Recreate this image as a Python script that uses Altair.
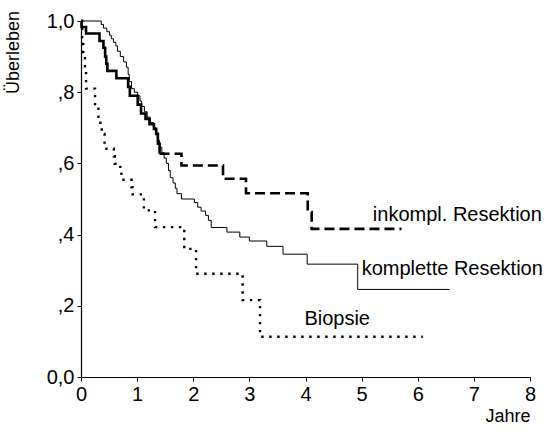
import altair as alt
import pandas as pd

# Kaplan-Meier curves (time in years, survival fraction)
komplett_t = [0, 0.36, 0.40, 0.46, 0.51, 0.54, 0.58, 0.62, 0.65, 0.70,
              0.76, 0.81, 0.84, 0.86, 0.90, 0.95, 1.01, 1.05, 1.08, 1.13,
              1.18, 1.23, 1.29, 1.33, 1.36, 1.40, 1.44, 1.48, 1.52, 1.56,
              1.59, 1.64, 1.68, 1.71, 1.79, 2.02, 2.08, 2.14, 2.22, 2.27,
              2.32, 2.60, 2.83, 3.00, 3.31, 3.60, 4.03, 4.93, 6.57]
komplett_s = [1.0, 0.99, 0.98, 0.97, 0.96, 0.95, 0.94, 0.93, 0.915, 0.90,
              0.885, 0.87, 0.85, 0.83, 0.81, 0.80, 0.79, 0.775, 0.76, 0.745,
              0.73, 0.715, 0.70, 0.685, 0.665, 0.645, 0.63, 0.615, 0.60, 0.58,
              0.56, 0.545, 0.53, 0.515, 0.50, 0.49, 0.477, 0.466, 0.454, 0.44,
              0.42, 0.407, 0.393, 0.382, 0.367, 0.345, 0.317, 0.246, 0.246]

inkompl_t = [0, 0.01, 0.09, 0.33, 0.40, 0.43, 0.45, 0.47, 0.63, 0.84,
             0.87, 1.01, 1.07, 1.15, 1.22, 1.30, 1.34, 1.37, 1.40, 1.79,
             2.53, 2.94, 4.04, 4.11, 5.71]
inkompl_s = [1.0, 0.983, 0.965, 0.944, 0.925, 0.90, 0.88, 0.86, 0.839, 0.815,
             0.79, 0.765, 0.74, 0.725, 0.71, 0.697, 0.683, 0.655, 0.627, 0.594,
             0.557, 0.516, 0.463, 0.416, 0.416]

biopsie_t = [0, 0.02, 0.04, 0.07, 0.09, 0.25, 0.31, 0.37, 0.42, 0.585,
             0.60, 0.70, 0.72, 0.90, 0.92, 1.12, 1.32, 1.84, 2.05, 2.88,
             3.19, 6.09]
biopsie_s = [1.0, 0.952, 0.905, 0.857, 0.810, 0.762, 0.714, 0.683, 0.641, 0.620,
             0.599, 0.577, 0.554, 0.533, 0.513, 0.468, 0.421, 0.36, 0.29, 0.216,
             0.113, 0.113]

label_text = ["inkompl. Resektion", "komplette Resektion", "Biopsie"]
label_t = [5.2, 5.0, 3.98]
label_s = [0.437, 0.286, 0.146]

x_ticks = [0, 1, 2, 3, 4, 5, 6, 7, 8]
y_ticks = [0, 0.2, 0.4, 0.6, 0.8, 1.0]

FONT = "Liberation Sans"

df_k = pd.DataFrame({"t": komplett_t, "s": komplett_s})
df_i = pd.DataFrame({"t": inkompl_t, "s": inkompl_s})
df_b = pd.DataFrame({"t": biopsie_t, "s": biopsie_s})
df_lab = pd.DataFrame({"label": label_text, "t": label_t, "s": label_s})

x_enc = alt.X("t:Q", scale=alt.Scale(domain=[0, 8], nice=False, zero=False),
              axis=alt.Axis(values=x_ticks, title="Jahre", format="d",
                            titleX=449, titleY=44, titleAlign="right",
                            titleBaseline="alphabetic", titleFontWeight="normal",
                            titleFontSize=18, labelFontSize=20, labelPadding=3,
                            tickSize=4, labelFlush=False))
y_enc = alt.Y("s:Q", scale=alt.Scale(domain=[0, 1], nice=False),
              axis=alt.Axis(values=y_ticks, title="Überleben",
                            labelExpr="datum.value == 0 ? '0,0' : datum.value == 1 ? '1,0' : replace(format(datum.value, '.1f'), '0.', ',')",
                            titleAngle=-90, titleX=-68, titleY=31,
                            titleAlign="center", titleBaseline="middle",
                            titleFontWeight="normal", titleFontSize=18,
                            labelFontSize=20, labelPadding=3, tickSize=4))

thin = alt.Chart(df_k).mark_line(interpolate="step-after", color="black",
                                 strokeWidth=1).encode(x=x_enc, y=y_enc)

thick_solid = alt.Chart(df_i).transform_filter("datum.t <= 1.40").mark_line(
    interpolate="step-after", color="black", strokeWidth=2.6).encode(x="t:Q", y="s:Q")
thick_dash = alt.Chart(df_i).transform_filter("datum.t >= 1.40").mark_line(
    interpolate="step-after", color="black", strokeWidth=2.6,
    strokeDash=[10, 5]).encode(x="t:Q", y="s:Q")

dotted = alt.Chart(df_b).mark_line(interpolate="step-after", color="black",
                                   strokeWidth=2.4, strokeDash=[2.4, 5.6]).encode(x="t:Q", y="s:Q")

texts = alt.Chart(df_lab).mark_text(align="left", baseline="alphabetic",
                                    font=FONT, fontSize=20, color="black").encode(
    x="t:Q", y="s:Q", text="label:N")

chart = alt.layer(thin, thick_solid, thick_dash, dotted, texts).properties(
    width=449, height=356,
    padding={"left": 81, "top": 21, "right": 19, "bottom": 69},
    autosize=alt.AutoSizeParams(type="none"),
    background="white",
).configure_axis(
    grid=False, domainColor="black", tickColor="black", labelColor="black",
    titleColor="black", labelFont=FONT, titleFont=FONT, domainWidth=1.2,
).configure_view(stroke=None)

chart.save("out.html", embed_options={"renderer": "svg", "actions": False})
